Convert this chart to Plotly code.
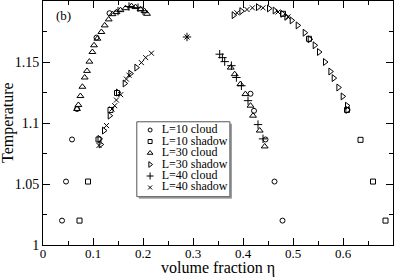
import plotly.graph_objects as go

# ---------------- data (volume fraction eta, temperature) ----------------
L10_cloud_x = [0.038, 0.046, 0.058, 0.068, 0.107, 0.133, 0.415, 0.422, 0.445, 0.463, 0.479]
L10_cloud_y = [1.020, 1.052, 1.0865, 1.1115, 1.170, 1.190, 1.124, 1.110, 1.0865, 1.052, 1.020]

L10_shadow_x = [0.073, 0.090, 0.111, 0.135, 0.148, 0.480, 0.532, 0.608, 0.635, 0.660, 0.685]
L10_shadow_y = [1.020, 1.052, 1.0865, 1.1107, 1.1246, 1.1895, 1.169, 1.1107, 1.0862, 1.052, 1.020]

L30_cloud_x = [0.068, 0.0708, 0.0748, 0.0788, 0.0834, 0.088, 0.0928, 0.0988, 0.102, 0.1088,
               0.1168, 0.1234, 0.1314, 0.139, 0.147, 0.155, 0.165, 0.177, 0.185, 0.195, 0.203, 0.208,
               0.3754, 0.3834, 0.3948, 0.4048, 0.415, 0.420, 0.4334, 0.4434]
L30_cloud_y = [1.1115, 1.1148, 1.1221, 1.1297, 1.1373, 1.1427, 1.1503, 1.1582, 1.1637, 1.1691,
               1.1746, 1.180, 1.1849, 1.1892, 1.1909, 1.1925, 1.1941, 1.1958, 1.195, 1.1933, 1.1917, 1.1895,
               1.1454, 1.140, 1.1319, 1.1237, 1.1142, 1.106, 1.0938, 1.0808]

L30_shadow_x = [0.113, 0.1154, 0.122, 0.1334, 0.150, 0.1634, 0.1748, 0.1868,
                0.3814, 0.3968, 0.430, 0.452, 0.4634, 0.4788, 0.4868, 0.4974, 0.5094, 0.5234, 0.5334,
                0.5434, 0.552, 0.564, 0.5748, 0.5814, 0.5908, 0.5994, 0.608, 0.6088]
L30_shadow_y = [1.087, 1.0824, 1.0938, 1.106, 1.125, 1.1324, 1.1405, 1.1454,
                1.1884, 1.1917, 1.195, 1.1939, 1.1922, 1.1895, 1.187, 1.1841, 1.180, 1.174, 1.1686,
                1.1637, 1.1582, 1.150, 1.1422, 1.1368, 1.1291, 1.1218, 1.1142, 1.1107]

L40_cloud_x = [0.150, 0.172, 0.190, 0.200, 0.288, 0.3534, 0.3588, 0.3634, 0.3768, 0.3868,
               0.3968, 0.410, 0.430, 0.440]
L40_cloud_y = [1.1917, 1.1955, 1.1945, 1.192, 1.1705, 1.1564, 1.1536, 1.1503, 1.147, 1.1373,
               1.1305, 1.1183, 1.0987, 1.087]

L40_shadow_x = [0.112, 0.127, 0.138, 0.1434, 0.1468, 0.1554, 0.1668, 0.172, 0.1968, 0.2054, 0.2168,
                0.288, 0.388, 0.408, 0.4188, 0.440, 0.470, 0.490]
L40_shadow_y = [1.0816, 1.0979, 1.1115, 1.1142, 1.1188, 1.1232, 1.136, 1.1392, 1.1495, 1.1536, 1.1572,
                1.1705, 1.1903, 1.193, 1.1944, 1.1944, 1.191, 1.187]

x_ticks = [0, 0.1, 0.2, 0.3, 0.4, 0.5, 0.6]
x_ticklabels = ["0", "0.1", "0.2", "0.3", "0.4", "0.5", "0.6"]
y_ticks = [1.0, 1.05, 1.1, 1.15]
y_ticklabels = ["1", "1.05", "1.1", "1.15"]

legend_names = ["L=10 cloud", "L=10 shadow", "L=30 cloud", "L=30 shadow", "L=40 cloud", "L=40 shadow"]

# ---------------- styling ----------------
FONT = "Liberation Serif"
series = [
    (L10_cloud_x, L10_cloud_y, "circle-open", 5),
    (L10_shadow_x, L10_shadow_y, "square-open", 5),
    (L30_cloud_x, L30_cloud_y, "triangle-up-open", 6),
    (L30_shadow_x, L30_shadow_y, "triangle-right-open", 6),
    (L40_cloud_x, L40_cloud_y, "cross-thin-open", 6),
    (L40_shadow_x, L40_shadow_y, "x-thin-open", 5),
]

fig = go.Figure()
for (xs, ys, sym, sz), name in zip(series, legend_names):
    fig.add_trace(go.Scatter(
        x=xs, y=ys, mode="markers", name=name, showlegend=False,
        marker=dict(symbol=sym, size=sz, color="black", line=dict(color="black", width=1)),
    ))

# manual legend (paper-like coordinates through an overlay axis)
leg_x_sym = 0.306
leg_x_txt = 0.339
leg_rows = [0.4713, 0.4242, 0.3770, 0.3299, 0.2828, 0.2357]
for (xs, ys, sym, sz), name, yy in zip(series, legend_names, leg_rows):
    fig.add_trace(go.Scatter(
        x=[leg_x_sym], y=[yy], xaxis="x2", yaxis="y2", mode="markers", showlegend=False,
        marker=dict(symbol=sym, size=max(sz - 1, 4), color="black", line=dict(color="black", width=1)),
        hoverinfo="skip",
    ))
fig.add_trace(go.Scatter(
    x=[leg_x_txt] * len(legend_names), y=leg_rows, xaxis="x2", yaxis="y2", mode="text",
    text=legend_names, textposition="middle right", showlegend=False, hoverinfo="skip",
    textfont=dict(family=FONT, size=12, color="black"),
))

# legend box with shadow
fig.add_shape(type="rect", xref="paper", yref="paper", x0=0.274, x1=0.540, y0=0.190, y1=0.497,
              line=dict(width=0), fillcolor="#a0a0a0", layer="below")
fig.add_shape(type="rect", xref="paper", yref="paper", x0=0.268, x1=0.534, y0=0.198, y1=0.505,
              line=dict(width=1, color="#555555"), fillcolor="white", layer="below")

fig.add_annotation(x=0.03, y=0.94, xref="paper", yref="paper", text="(b)", showarrow=False,
                   xanchor="left", yanchor="middle", font=dict(family=FONT, size=13, color="black"))

# axis titles
fig.add_annotation(x=0.5, y=-0.095, xref="paper", yref="paper", text="volume fraction η",
                   showarrow=False, xanchor="center", yanchor="middle",
                   font=dict(family=FONT, size=16, color="black"))
fig.add_annotation(x=-0.1, y=0.5, xref="paper", yref="paper", text="Temperature", textangle=-90,
                   showarrow=False, xanchor="center", yanchor="middle",
                   font=dict(family=FONT, size=16, color="black"))

axis_common = dict(showline=True, linecolor="black", linewidth=1, mirror="ticks",
                   ticks="inside", ticklen=7, tickcolor="black", tickwidth=1,
                   showgrid=False, zeroline=False)

fig.update_layout(
    width=395, height=277,
    margin=dict(l=43, r=2, t=1, b=32),
    paper_bgcolor="white", plot_bgcolor="white",
    font=dict(family=FONT, color="black"),
    xaxis=dict(range=[0, 0.7], tickvals=x_ticks, ticktext=x_ticklabels, ticklabelstandoff=-4,
               tickfont=dict(family=FONT, size=13, color="black"),
               minor=dict(dtick=0.05, tick0=0, ticks="inside", ticklen=4, tickcolor="black"),
               **axis_common),
    yaxis=dict(range=[1.0, 1.2], tickvals=y_ticks, ticktext=y_ticklabels,
               tickfont=dict(family=FONT, size=14, color="black"),
               minor=dict(dtick=0.025, tick0=1.0, ticks="inside", ticklen=4, tickcolor="black"),
               **axis_common),
    xaxis2=dict(overlaying="x", range=[0, 1], visible=False, fixedrange=True),
    yaxis2=dict(overlaying="y", range=[0, 1], visible=False, fixedrange=True),
)

fig.write_html("out.html", config={"displayModeBar": False},
               post_script="document.body.style.margin='0';document.body.style.overflow='hidden';")
